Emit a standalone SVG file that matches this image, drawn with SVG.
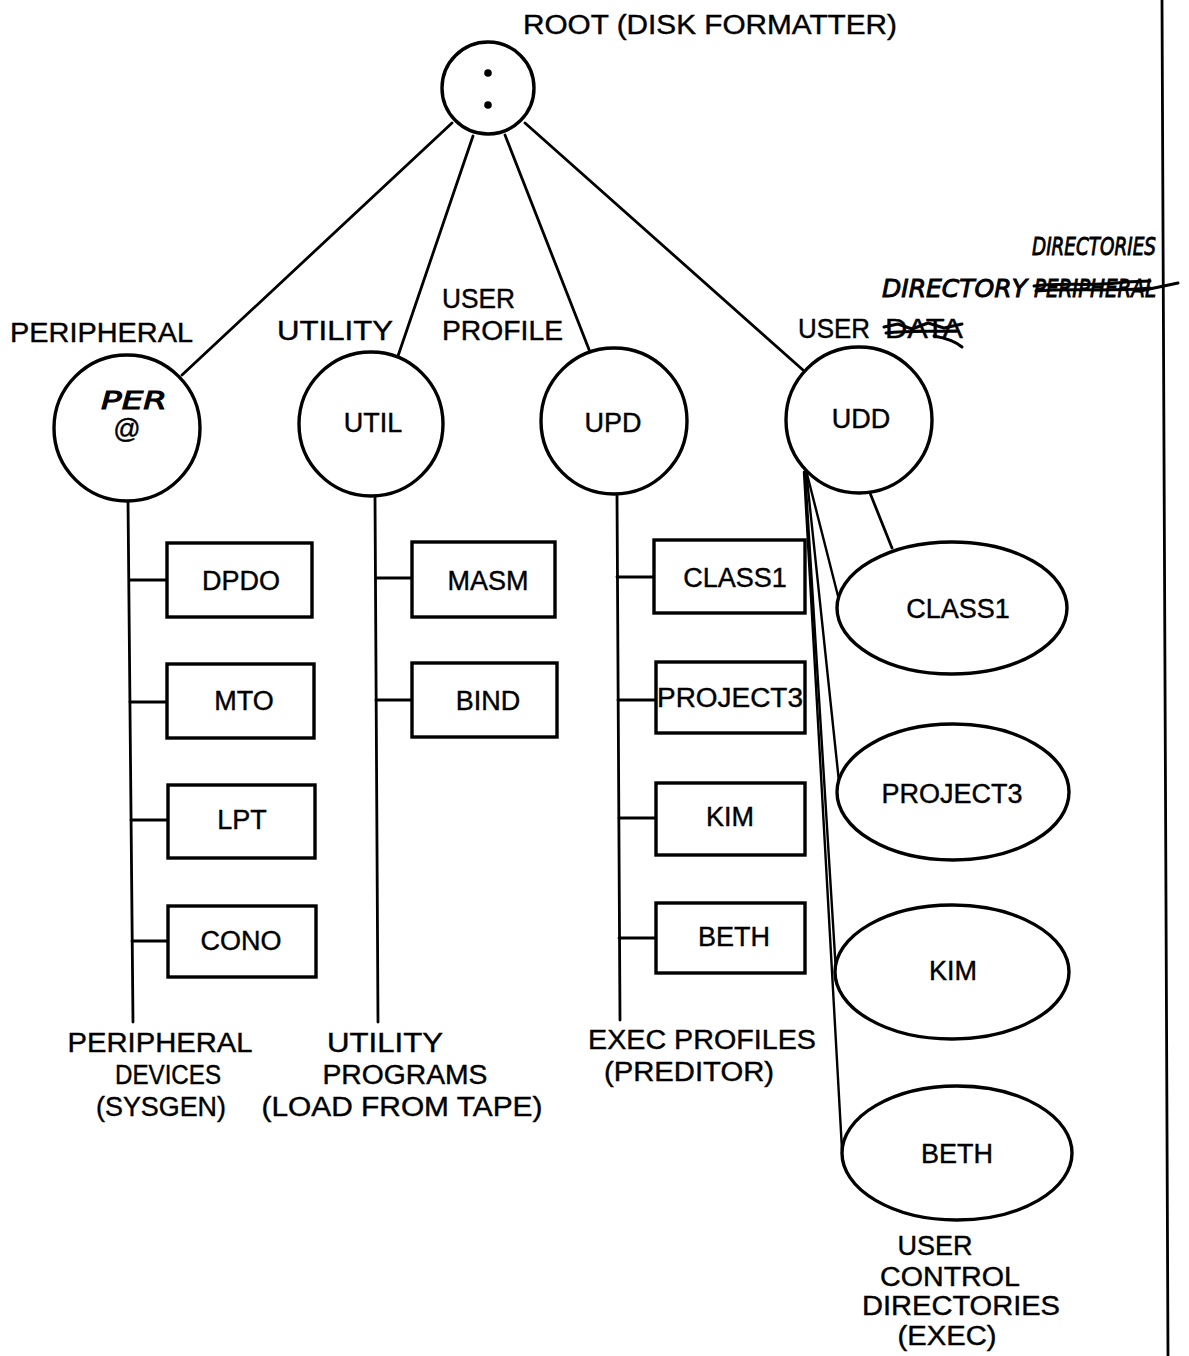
<svg xmlns="http://www.w3.org/2000/svg" width="1189" height="1356" viewBox="0 0 1189 1356">
  <style>
    .ln { fill: none; stroke: #000; stroke-width: 2.8; stroke-linecap: round; }
    .fan { fill: none; stroke: #000; stroke-width: 2.4; stroke-linecap: round; }
    .shape { fill: #fff; stroke: #000; stroke-width: 3.4; }
    .lbl { font-family: "Liberation Sans", Arial, sans-serif; font-size: 27px; fill: #000; stroke: #000; stroke-width: 0.4; }
    .mid { text-anchor: middle; }
    .hand { font-family: "DejaVu Sans", sans-serif; font-style: italic; font-size: 24px; fill: #000; stroke: #000; stroke-width: 0.9; }
    .scrib { fill: none; stroke: #000; stroke-width: 3; stroke-linecap: round; stroke-linejoin: round; }
  </style>

  <!-- margin rule at the right -->
  <line class="ln" x1="1162" y1="0" x2="1168" y2="1356"/>

  <!-- connectors -->
  <g id="connectors">
    <!-- root to the four system directories -->
    <line class="ln" x1="452" y1="123" x2="182" y2="375"/>
    <line class="ln" x1="473" y1="136" x2="398" y2="356"/>
    <line class="ln" x1="505" y1="135" x2="590" y2="352"/>
    <line class="ln" x1="525" y1="123" x2="803" y2="370"/>

    <!-- PER trunk and branches -->
    <line class="ln" x1="128" y1="500" x2="133" y2="1022"/>
    <line class="ln" x1="130" y1="580" x2="167" y2="580"/>
    <line class="ln" x1="130" y1="702" x2="167" y2="702"/>
    <line class="ln" x1="131" y1="820" x2="168" y2="820"/>
    <line class="ln" x1="132" y1="941" x2="168" y2="941"/>

    <!-- UTIL trunk and branches -->
    <line class="ln" x1="375" y1="496" x2="378" y2="1022"/>
    <line class="ln" x1="376" y1="578" x2="412" y2="578"/>
    <line class="ln" x1="376" y1="700" x2="412" y2="700"/>

    <!-- UPD trunk and branches -->
    <line class="ln" x1="617" y1="494" x2="620" y2="1020"/>
    <line class="ln" x1="617" y1="577" x2="654" y2="577"/>
    <line class="ln" x1="618" y1="700" x2="656" y2="700"/>
    <line class="ln" x1="619" y1="818" x2="656" y2="818"/>
    <line class="ln" x1="619" y1="938" x2="656" y2="938"/>

    <!-- UDD fan to the user control directories -->
    <line class="ln" x1="870" y1="493" x2="892" y2="548"/>
    <line class="fan" x1="806" y1="470" x2="838" y2="596"/>
    <line class="fan" x1="806" y1="470" x2="839" y2="782"/>
    <line class="fan" x1="805" y1="472" x2="836" y2="972"/>
    <line class="fan" x1="804" y1="472" x2="842" y2="1150"/>
  </g>

  <!-- root -->
  <g id="root">
    <text class="lbl" x="523" y="34" textLength="374" lengthAdjust="spacingAndGlyphs">ROOT (DISK FORMATTER)</text>
    <circle class="shape" cx="488" cy="88" r="46"/>
    <circle cx="488" cy="73" r="3.8"/>
    <circle cx="488" cy="105" r="3.8"/>
  </g>

  <!-- PER directory -->
  <g id="per">
    <text class="lbl" x="10" y="342" textLength="183" lengthAdjust="spacingAndGlyphs">PERIPHERAL</text>
    <circle class="shape" cx="127" cy="428" r="73"/>
    <text class="hand" x="101" y="409" font-size="21" textLength="66" lengthAdjust="spacingAndGlyphs">PER</text>
    <text class="lbl mid" x="127" y="438" font-size="18">@</text>
  </g>

  <!-- UTIL directory -->
  <g id="util">
    <text class="lbl" x="277" y="340" textLength="116" lengthAdjust="spacingAndGlyphs">UTILITY</text>
    <circle class="shape" cx="371" cy="424" r="72"/>
    <text class="lbl mid" x="373" y="432">UTIL</text>
  </g>

  <!-- UPD directory -->
  <g id="upd">
    <text class="lbl" x="442" y="308" textLength="73" lengthAdjust="spacingAndGlyphs">USER</text>
    <text class="lbl" x="442" y="340" textLength="121" lengthAdjust="spacingAndGlyphs">PROFILE</text>
    <circle class="shape" cx="614" cy="421" r="73"/>
    <text class="lbl mid" x="613" y="432">UPD</text>
  </g>

  <!-- UDD directory -->
  <g id="udd">
    <text class="lbl" x="798" y="338" textLength="72" lengthAdjust="spacingAndGlyphs">USER</text>
    <text class="lbl" x="885" y="338" textLength="78" lengthAdjust="spacingAndGlyphs">DATA</text>
    <!-- pen strike over DATA -->
    <path class="scrib" d="M884 327 L898 324 L912 329 L928 323 L944 328 L962 324 M886 333 C910 330 935 332 958 331 M934 336 C946 338 956 342 962 347"/>
    <!-- handwritten correction -->
    <text class="hand" x="882" y="297" textLength="145" lengthAdjust="spacingAndGlyphs">DIRECTORY</text>
    <text class="hand" x="1034" y="297" textLength="122" lengthAdjust="spacingAndGlyphs">PERIPHERAL</text>
    <path class="scrib" d="M1034 286 C1060 282 1095 287 1125 282 L1150 281 M1036 291 C1070 288 1110 292 1150 288 M1140 291 L1178 283"/>
    <text class="hand" x="1032" y="255" font-size="22" textLength="124" lengthAdjust="spacingAndGlyphs">DIRECTORIES</text>
    <circle class="shape" cx="859" cy="420" r="73"/>
    <text class="lbl mid" x="861" y="428">UDD</text>
  </g>

  <!-- peripheral device entries -->
  <g id="dpdo"><rect class="shape" x="167" y="543" width="145" height="74"/><text class="lbl mid" x="241" y="590">DPDO</text></g>
  <g id="mto"><rect class="shape" x="167" y="664" width="147" height="74"/><text class="lbl mid" x="244" y="710">MTO</text></g>
  <g id="lpt"><rect class="shape" x="168" y="785" width="147" height="73"/><text class="lbl mid" x="242" y="829">LPT</text></g>
  <g id="cono"><rect class="shape" x="168" y="906" width="148" height="71"/><text class="lbl mid" x="241" y="950">CONO</text></g>

  <!-- utility programs -->
  <g id="masm"><rect class="shape" x="412" y="542" width="143" height="75"/><text class="lbl mid" x="488" y="590">MASM</text></g>
  <g id="bind"><rect class="shape" x="412" y="663" width="145" height="74"/><text class="lbl mid" x="488" y="710">BIND</text></g>

  <!-- exec profiles -->
  <g id="upd-class1"><rect class="shape" x="654" y="540" width="151" height="73"/><text class="lbl mid" x="735" y="587">CLASS1</text></g>
  <g id="upd-project3"><rect class="shape" x="656" y="662" width="149" height="71"/><text class="lbl mid" x="730" y="707" textLength="146" lengthAdjust="spacingAndGlyphs">PROJECT3</text></g>
  <g id="upd-kim"><rect class="shape" x="656" y="783" width="149" height="72"/><text class="lbl mid" x="730" y="826">KIM</text></g>
  <g id="upd-beth"><rect class="shape" x="656" y="903" width="149" height="70"/><text class="lbl mid" x="734" y="946">BETH</text></g>

  <!-- user control directories -->
  <g id="udd-class1"><ellipse class="shape" cx="952" cy="608" rx="115" ry="66"/><text class="lbl mid" x="958" y="618">CLASS1</text></g>
  <g id="udd-project3"><ellipse class="shape" cx="953" cy="792" rx="116" ry="68"/><text class="lbl mid" x="952" y="803">PROJECT3</text></g>
  <g id="udd-kim"><ellipse class="shape" cx="952" cy="972" rx="117" ry="67"/><text class="lbl mid" x="953" y="980">KIM</text></g>
  <g id="udd-beth"><ellipse class="shape" cx="957" cy="1153" rx="115" ry="67"/><text class="lbl mid" x="957" y="1163">BETH</text></g>

  <!-- captions under the trunks -->
  <g id="captions">
    <text class="lbl mid" x="160" y="1052" textLength="185" lengthAdjust="spacingAndGlyphs">PERIPHERAL</text>
    <text class="lbl mid" x="168" y="1084" textLength="106" lengthAdjust="spacingAndGlyphs">DEVICES</text>
    <text class="lbl mid" x="161" y="1116" textLength="130" lengthAdjust="spacingAndGlyphs">(SYSGEN)</text>
    <text class="lbl mid" x="385" y="1052" textLength="116" lengthAdjust="spacingAndGlyphs">UTILITY</text>
    <text class="lbl mid" x="405" y="1084" textLength="165" lengthAdjust="spacingAndGlyphs">PROGRAMS</text>
    <text class="lbl mid" x="402" y="1116" textLength="281" lengthAdjust="spacingAndGlyphs">(LOAD FROM TAPE)</text>
    <text class="lbl mid" x="702" y="1049" textLength="228" lengthAdjust="spacingAndGlyphs">EXEC PROFILES</text>
    <text class="lbl mid" x="689" y="1081" textLength="170" lengthAdjust="spacingAndGlyphs">(PREDITOR)</text>
    <text class="lbl mid" x="935" y="1255" textLength="75" lengthAdjust="spacingAndGlyphs">USER</text>
    <text class="lbl mid" x="950" y="1286" textLength="140" lengthAdjust="spacingAndGlyphs">CONTROL</text>
    <text class="lbl mid" x="961" y="1315" textLength="198" lengthAdjust="spacingAndGlyphs">DIRECTORIES</text>
    <text class="lbl mid" x="947" y="1345" font-size="26" textLength="99" lengthAdjust="spacingAndGlyphs">(EXEC)</text>
  </g>
</svg>
